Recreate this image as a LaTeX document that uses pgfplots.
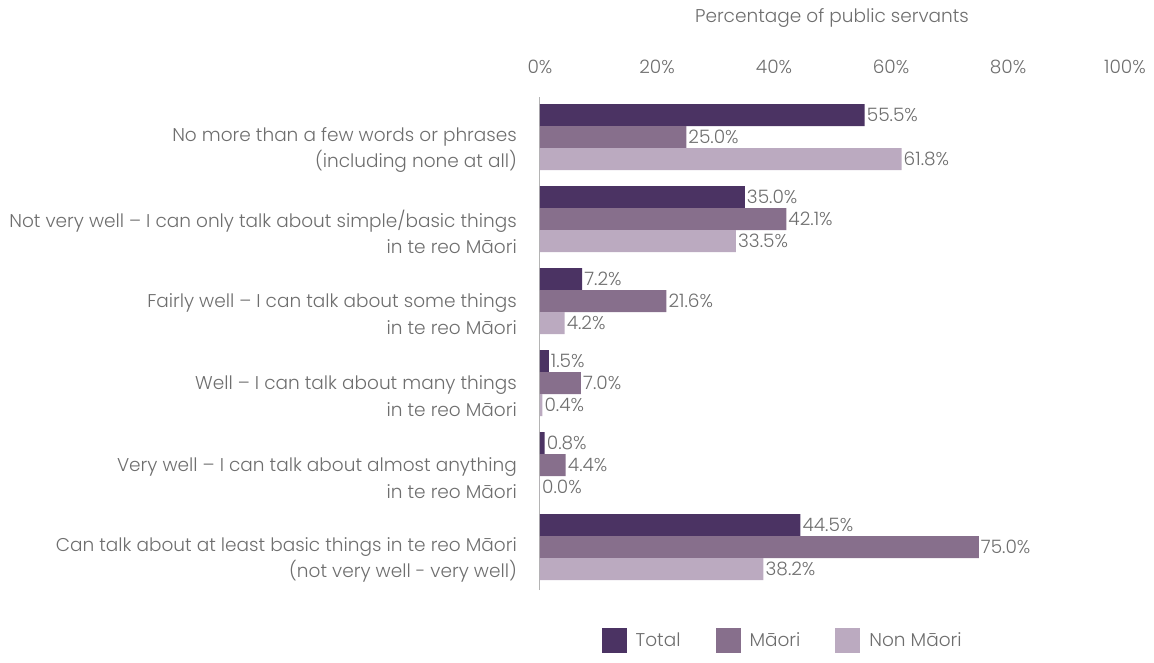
\documentclass[border=0pt]{standalone}
\usepackage{pgfplots}
\pgfplotsset{compat=1.18}
\usepackage{fontspec}
\setmainfont{Poppins}[UprightFont=* Light]
\definecolor{cTotal}{HTML}{4B3363}
\definecolor{cMaori}{HTML}{876F8C}
\definecolor{cNon}{HTML}{BBAAC0}
\definecolor{txt}{HTML}{6E6E6E}
\definecolor{axl}{HTML}{B4B4B4}
\newcommand{\fs}{\fontsize{18.5}{26.5}\selectfont}
\begin{document}
\fs
\begin{tikzpicture}[x=1pt,y=1pt]
\path[use as bounding box] (0,0) rectangle (1154,-662);
\begin{axis}[
  at={(540pt,-97pt)}, anchor=north west,
  scale only axis, width=585pt, height=493pt,
  xbar, bar width=22pt,
  xmin=0, xmax=100, ymin=-0.524, ymax=5.488,
  axis y line*=left, axis x line*=top,
  x axis line style={draw=none},
  y axis line style={draw=axl, line width=1pt, -},
  major tick length=0pt,
  xtick={0,20,40,60,80,100},
  /pgf/number format/assume math mode=true,
  xticklabel={\pgfmathprintnumber{\tick}\%},
  xticklabel style={font=\fs, text=txt, yshift=17pt},
  ytick={0,1,2,3,4,5},
  yticklabels={{Can talk about at least basic things in te reo Māori\\(not very well - very well)},
               {Very well – I can talk about almost anything\\in te reo Māori},
               {Well – I can talk about many things\\in te reo Māori},
               {Fairly well – I can talk about some things\\in te reo Māori},
               {Not very well – I can only talk about simple/basic things\\in te reo Māori},
               {No more than a few words or phrases\\(including none at all)}},
  yticklabel style={align=right, font=\fs, text=txt, inner sep=0pt, xshift=-23pt, yshift=-13pt},
  clip=false,
  nodes near coords={\pgfmathprintnumber[fixed,fixed zerofill,precision=1]{\pgfplotspointmeta}\%},
  nodes near coords style={font=\fs, text=txt, anchor=west, inner sep=2pt},
  point meta=explicit,
  legend style={at={(0.1,-0.103)}, anchor=west, draw=none, legend columns=3,
    font=\fs, text=txt,
    /tikz/every odd column/.append style={column sep=7pt},
    /tikz/every even column/.append style={column sep=33pt}},
  legend image code/.code={\fill[#1] (0pt,-12.5pt) rectangle (25pt,12.5pt);},
]
\addplot[fill=cTotal, draw=none, bar shift=22pt] coordinates {
  (55.5,5) [55.5] (35.0,4) [35.0] (7.2,3) [7.2] (1.5,2) [1.5] (0.8,1) [0.8] (44.5,0) [44.5]};
\addplot[fill=cMaori, draw=none, bar shift=0pt] coordinates {
  (25.0,5) [25.0] (42.1,4) [42.1] (21.6,3) [21.6] (7.0,2) [7.0] (4.4,1) [4.4] (75.0,0) [75.0]};
\addplot[fill=cNon, draw=none, bar shift=-22pt] coordinates {
  (61.8,5) [61.8] (33.5,4) [33.5] (4.2,3) [4.2] (0.4,2) [0.4] (0.0,1) [0.0] (38.2,0) [38.2]};
\legend{Total, Māori, Non Māori}
\end{axis}
\node[font=\fs, text=txt] at (832,-18) {Percentage of public servants};
\end{tikzpicture}
\end{document}
